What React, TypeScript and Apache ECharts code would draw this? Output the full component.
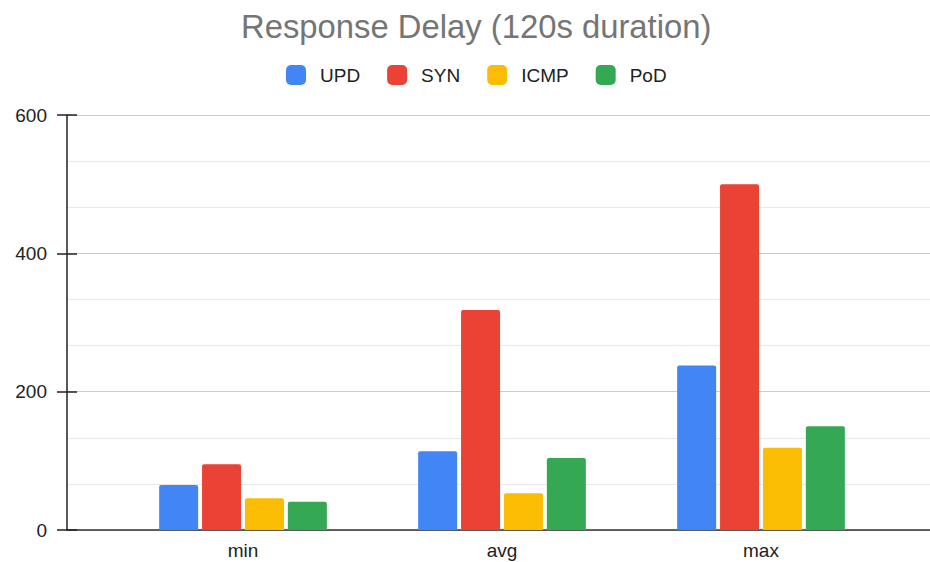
import React, { useEffect, useRef } from "react";
import * as echarts from "echarts";

const categories = ["min", "avg", "max"];
const seriesNames = ["UPD", "SYN", "ICMP", "PoD"];
const updValues = [65, 114, 238];
const synValues = [95, 318, 500];
const icmpValues = [46, 53, 119];
const podValues = [41, 104, 150];
const colors = ["#4285F4", "#EA4335", "#FBBC04", "#34A853"];
const yMin = 0;
const yMax = 600;
const yInterval = 200;

export default function App() {
  const ref = useRef<HTMLDivElement>(null);
  useEffect(() => {
    if (!ref.current) return;
    document.documentElement.style.overflow = "hidden";
    document.body.style.overflow = "hidden";
    const chart = echarts.init(ref.current, undefined, { renderer: "svg" });
    const font = "'Liberation Sans', Arial, sans-serif";
    const values = [updValues, synValues, icmpValues, podValues];
    const gridTop = 115;
    const gridBottom = 32;
    chart.setOption({
      animation: false,
      backgroundColor: "#ffffff",
      title: {
        text: "Response Delay (120s duration)",
        left: 241,
        top: 10,
        padding: 0,
        textStyle: { fontFamily: font, fontSize: 32.8, fontWeight: "normal", color: "#757575" },
      },
      legend: {
        top: 65,
        left: 286,
        padding: 0,
        itemWidth: 20,
        itemHeight: 20,
        itemGap: 27,
        icon: "roundRect",
        textStyle: { fontFamily: font, fontSize: 19, color: "#222222", padding: [0, 0, 0, 9] },
        data: seriesNames,
      },
      grid: [
        { left: 67, right: 0, top: gridTop, bottom: gridBottom, outerBoundsMode: "none", containLabel: false },
        { left: 113.5, right: 39.5, top: gridTop, bottom: gridBottom, outerBoundsMode: "none", containLabel: false },
      ],
      xAxis: [
        {
          gridIndex: 0,
          type: "category",
          data: categories,
          axisLine: { show: true, lineStyle: { color: "#333333", width: 1.5 } },
          axisTick: { show: false },
          axisLabel: { show: false },
          splitLine: { show: false },
        },
        {
          gridIndex: 1,
          type: "category",
          data: categories,
          axisLine: { show: false },
          axisTick: { show: false },
          axisLabel: { show: true, margin: 11, fontFamily: font, fontSize: 19, color: "#222222" },
          splitLine: { show: false },
        },
      ],
      yAxis: [
        {
          gridIndex: 0,
          type: "value",
          min: yMin,
          max: yMax,
          interval: yInterval,
          axisLine: { show: true, lineStyle: { color: "#222222", width: 1.5 } },
          axisTick: { show: true, length: 10, lineStyle: { color: "#222222", width: 1.5 } },
          axisLabel: { margin: 20, fontFamily: font, fontSize: 19, color: "#222222" },
          splitLine: { show: true, lineStyle: { color: "#cccccc", width: 1 } },
          minorTick: { show: false, splitNumber: 3 },
          minorSplitLine: { show: true, lineStyle: { color: "#e8e8e8", width: 1 } },
        },
        {
          gridIndex: 0,
          type: "value",
          position: "left",
          min: yMin,
          max: yMax,
          interval: yInterval,
          axisLine: { show: false },
          axisTick: { show: true, inside: true, length: 10, lineStyle: { color: "#222222", width: 1.5 } },
          axisLabel: { show: false },
          splitLine: { show: false },
        },
        {
          gridIndex: 1,
          type: "value",
          min: yMin,
          max: yMax,
          interval: yInterval,
          show: false,
          splitLine: { show: false },
        },
      ],
      series: seriesNames.map((name, i) => ({
        name,
        type: "bar",
        xAxisIndex: 1,
        yAxisIndex: 2,
        data: values[i],
        barWidth: 39,
        barGap: "10%",
        itemStyle: { color: colors[i], borderRadius: [2, 2, 0, 0] },
      })),
    });
    return () => chart.dispose();
  }, []);
  return (
    <div
      ref={ref}
      style={{ position: "fixed", left: 0, top: 0, width: 930, height: 562 }}
    />
  );
}
